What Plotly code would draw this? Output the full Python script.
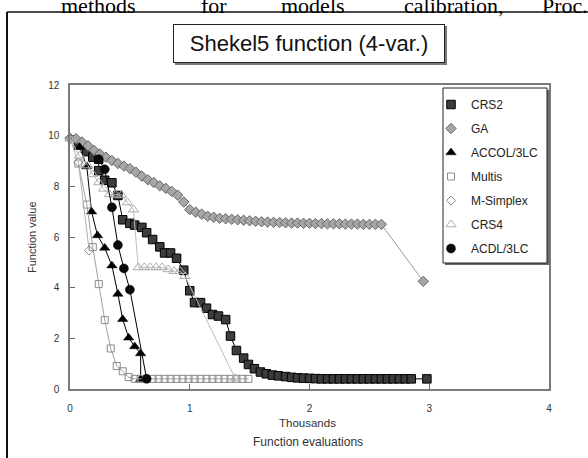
import plotly.graph_objects as go

# ---------------- data (x in thousands of function evaluations) ----------------
crs2_x = [0.07, 0.14, 0.19, 0.24, 0.24, 0.29, 0.35, 0.40, 0.44, 0.50, 0.54, 0.60, 0.64, 0.69,
          0.75, 0.79, 0.84, 0.89, 0.95, 1.00, 1.04, 1.09, 1.14, 1.19, 1.24, 1.30, 1.34, 1.39,
          1.45, 1.49, 1.54, 1.59, 1.64, 1.69, 1.74, 1.80, 1.85, 1.90, 1.95, 2.00, 2.05, 2.10,
          2.15, 2.20, 2.25, 2.30, 2.35, 2.40, 2.45, 2.50, 2.55, 2.60, 2.65, 2.70, 2.75, 2.80,
          2.85, 2.98]
crs2_y = [9.63, 9.37, 9.15, 9.07, 8.62, 8.24, 8.14, 7.64, 6.68, 6.54, 6.47, 6.38, 6.17, 5.90,
          5.61, 5.37, 5.37, 5.16, 4.69, 3.88, 3.41, 3.41, 3.19, 2.94, 2.88, 2.74, 2.09, 1.52,
          1.22, 0.97, 0.80, 0.67, 0.60, 0.55, 0.52, 0.49, 0.46, 0.44, 0.43, 0.42, 0.41, 0.40,
          0.40, 0.40, 0.40, 0.40, 0.40, 0.40, 0.40, 0.40, 0.40, 0.40, 0.40, 0.40, 0.40, 0.40,
          0.40, 0.40]

ga_x = [0.00, 0.05, 0.10, 0.15, 0.20, 0.25, 0.30, 0.35, 0.40, 0.45, 0.50, 0.55, 0.60, 0.65,
        0.70, 0.75, 0.80, 0.85, 0.90, 0.95, 1.00, 1.05, 1.10, 1.15, 1.20, 1.25, 1.30, 1.35,
        1.40, 1.45, 1.50, 1.55, 1.60, 1.65, 1.70, 1.75, 1.80, 1.85, 1.90, 1.95, 2.00, 2.05,
        2.10, 2.15, 2.20, 2.25, 2.30, 2.35, 2.40, 2.45, 2.50, 2.55, 2.60, 2.95]
ga_y = [9.90, 9.88, 9.75, 9.60, 9.42, 9.28, 9.15, 9.02, 8.90, 8.80, 8.70, 8.56, 8.40, 8.26,
        8.15, 8.02, 7.92, 7.80, 7.65, 7.38, 7.08, 6.98, 6.90, 6.82, 6.78, 6.74, 6.72, 6.70,
        6.68, 6.66, 6.64, 6.62, 6.60, 6.59, 6.58, 6.57, 6.56, 6.55, 6.55, 6.54, 6.54, 6.53,
        6.53, 6.52, 6.52, 6.52, 6.51, 6.51, 6.51, 6.50, 6.50, 6.50, 6.50, 4.25]

accol_x = [0.08, 0.14, 0.18, 0.23, 0.29, 0.35, 0.40, 0.44, 0.49, 0.54, 0.59, 0.59]
accol_y = [9.55, 8.78, 7.00, 6.06, 5.57, 4.87, 3.75, 2.75, 2.02, 1.68, 1.40, 0.38]

multis_x = [0.07, 0.14, 0.19, 0.24, 0.29, 0.34, 0.39, 0.44, 0.49, 0.54, 0.59, 0.64, 0.69,
            0.74, 0.79, 0.84, 0.89, 0.94, 0.99, 1.04, 1.09, 1.14, 1.19, 1.24, 1.29, 1.34,
            1.39, 1.44, 1.49]
multis_y = [8.90, 7.28, 5.60, 4.14, 2.72, 1.60, 0.91, 0.70, 0.47, 0.40, 0.40, 0.40, 0.40,
            0.40, 0.40, 0.40, 0.40, 0.40, 0.40, 0.40, 0.40, 0.40, 0.40, 0.40, 0.40, 0.40,
            0.40, 0.40, 0.40]

msimplex_x = [0.00, 0.07, 0.16]
msimplex_y = [9.88, 8.95, 5.47]

crs4_x = [0.00, 0.08, 0.15, 0.19, 0.24, 0.28, 0.33, 0.38, 0.43, 0.48, 0.53, 0.57, 0.62, 0.67,
          0.72, 0.77, 0.82, 0.87, 0.92, 0.96, 1.38]
crs4_y = [9.88, 9.20, 8.82, 8.47, 8.15, 7.90, 7.68, 7.66, 7.66, 7.36, 7.08, 4.80, 4.80, 4.80,
          4.80, 4.80, 4.72, 4.65, 4.65, 4.45, 0.42]

acdl_x = [0.24, 0.29, 0.35, 0.40, 0.45, 0.50, 0.64]
acdl_y = [9.07, 8.67, 7.17, 5.68, 4.76, 3.92, 0.40]

x_ticks = [0, 1, 2, 3, 4]
y_ticks = [0, 2, 4, 6, 8, 10, 12]

# ---------------- geometry helpers (pixels -> paper) ----------------
W, H = 588, 458
L, R, T, B = 70, 549, 85, 389


def px(x):
    return (x - L) / (R - L)


def py(y):
    return (B - y) / (B - T)


series = [
    ("CRS2", crs2_x, crs2_y, "#000000", 1.0,
     dict(symbol="square", size=8.5, color="#3c3c3c", line=dict(color="#000000", width=1))),
    ("GA", ga_x, ga_y, "#9a9a9a", 1.0,
     dict(symbol="diamond", size=8, color="#a6a6a6", line=dict(color="#666666", width=1))),
    ("ACCOL/3LC", accol_x, accol_y, "#000000", 1.0,
     dict(symbol="triangle-up", size=9, color="#000000", line=dict(color="#000000", width=0.5))),
    ("Multis", multis_x, multis_y, "#a0a0a0", 1.0,
     dict(symbol="square-open", size=7, color="#8c8c8c", line=dict(width=1))),
    ("M-Simplex", msimplex_x, msimplex_y, "#b0b0b0", 1.0,
     dict(symbol="diamond-open", size=7, color="#8c8c8c", line=dict(width=1))),
    ("CRS4", crs4_x, crs4_y, "#bcbcbc", 1.0,
     dict(symbol="triangle-up-open", size=9, color="#acacac", line=dict(width=1))),
    ("ACDL/3LC", acdl_x, acdl_y, "#000000", 1.0,
     dict(symbol="circle", size=9, color="#0a0a0a", line=dict(color="#000000", width=0.5))),
]

fig = go.Figure()
for i, (name, xs, ys, lc, lw, mk) in enumerate(series):
    fig.add_trace(go.Scatter(x=xs, y=ys, mode="lines", line=dict(color=lc, width=lw),
                             showlegend=False, hoverinfo="skip", cliponaxis=False))
    fig.add_trace(go.Scatter(x=xs, y=ys, mode="markers", marker=mk, name=name,
                             legendgroup="g%d" % i, cliponaxis=False))

axis_common = dict(showgrid=False, zeroline=False, showline=True, linecolor="#7a7a7a",
                   linewidth=1.5, mirror=True, ticks="inside", ticklen=5, tickcolor="#6a6a6a",
                   tickwidth=1, tickfont=dict(family="Liberation Sans", size=10, color="#333333"))

header_font = dict(family="Liberation Serif", size=22, color="#000000")

fig.update_layout(
    width=W, height=H, autosize=False,
    margin=dict(l=L, r=W - R, t=T, b=H - B, pad=0),
    paper_bgcolor="white", plot_bgcolor="rgba(0,0,0,0)",
    font=dict(family="Liberation Sans", color="#222222"),
    xaxis=dict(range=[0, 4], tickvals=x_ticks, ticklabelstandoff=9, **axis_common),
    yaxis=dict(range=[0, 12], tickvals=y_ticks, ticklabelstandoff=7, **axis_common),
    legend=dict(x=px(431), y=py(90), xanchor="left", yanchor="top",
                bgcolor="rgba(0,0,0,0)", borderwidth=0, tracegroupgap=5,
                font=dict(family="Liberation Sans", size=12, color="#222222")),
    shapes=[
        # outer page frame
        dict(type="line", xref="paper", yref="paper", x0=px(7), y0=py(12), x1=px(7), y1=py(470),
             line=dict(color="#111111", width=2)),
        dict(type="line", xref="paper", yref="paper", x0=px(7), y0=py(12), x1=px(600), y1=py(12),
             line=dict(color="#111111", width=1.5)),
        # title box shadow
        dict(type="rect", xref="paper", yref="paper", x0=px(175), x1=px(447), y0=py(26), y1=py(65),
             fillcolor="#7a7a7a", line=dict(width=0)),
        # legend box shadow + box
        dict(type="rect", xref="paper", yref="paper", x0=px(445), x1=px(549.5), y0=py(90), y1=py(265),
             fillcolor="#6a6a6a", line=dict(width=0)),
        dict(type="rect", xref="paper", yref="paper", x0=px(443), x1=px(547), y0=py(88), y1=py(263),
             fillcolor="white", line=dict(color="#222222", width=1)),
    ],
    annotations=[
        dict(text="Shekel5 function (4-var.)", xref="paper", yref="paper", x=px(309), y=py(43),
             xanchor="center", yanchor="middle", showarrow=False, width=270, height=37,
             bgcolor="white", bordercolor="#222222", borderwidth=1, borderpad=0,
             font=dict(family="Liberation Sans", size=22, color="#111111")),
        dict(text="Thousands", xref="paper", yref="paper", x=px(307), y=py(423),
             xanchor="center", yanchor="middle", showarrow=False,
             font=dict(family="Liberation Sans", size=11.5, color="#333333")),
        dict(text="Function evaluations", xref="paper", yref="paper", x=px(308), y=py(442),
             xanchor="center", yanchor="middle", showarrow=False,
             font=dict(family="Liberation Sans", size=12, color="#333333")),
        dict(text="Function value", xref="paper", yref="paper", x=px(32), y=py(237),
             xanchor="center", yanchor="middle", showarrow=False, textangle=-90,
             font=dict(family="Liberation Sans", size=11, color="#333333")),
        # scanned page text above the chart (cut off at the top)
        dict(text="methods", xref="paper", yref="paper", x=px(98), y=py(5),
             xanchor="center", yanchor="middle", showarrow=False, font=header_font),
        dict(text="for", xref="paper", yref="paper", x=px(214), y=py(5),
             xanchor="center", yanchor="middle", showarrow=False, font=header_font),
        dict(text="models", xref="paper", yref="paper", x=px(313), y=py(5),
             xanchor="center", yanchor="middle", showarrow=False, font=header_font),
        dict(text="calibration,", xref="paper", yref="paper", x=px(454), y=py(5),
             xanchor="center", yanchor="middle", showarrow=False, font=header_font),
        dict(text="Proc.", xref="paper", yref="paper", x=px(540), y=py(5),
             xanchor="left", yanchor="middle", showarrow=False, font=header_font),
    ],
)

fig.write_html("out.html", config={"displayModeBar": False},
               post_script="document.body.style.margin='0';document.body.style.padding='0';")
